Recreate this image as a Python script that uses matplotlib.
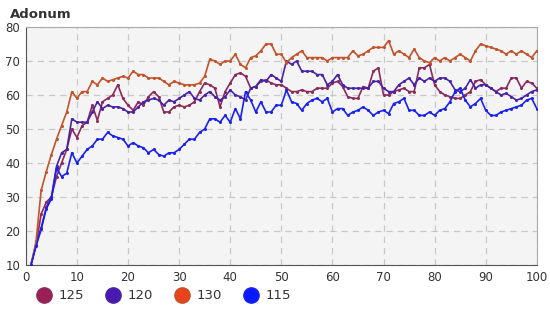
import matplotlib.pyplot as plt
from matplotlib.lines import Line2D

# x positions (1..100)
x = list(range(1, 101))

s125 = [10, 16, 25, 28.5, 30, 36, 40, 44, 50, 47.5,
        51, 52, 57, 52.5, 58, 59, 60, 63, 59, 57,
        55.5, 58, 57, 59.5, 61, 59.5, 55, 55, 56.5, 57,
        56.5, 57, 58, 61, 63.5, 63, 62, 56.5, 61, 63.5,
        66, 66.5, 65.5, 62, 62.5, 64, 64.5, 63.5, 63, 63,
        62, 61, 61, 61.5, 61, 61, 62, 62, 62, 63.5,
        64, 62.5, 59.5, 59, 59, 62.5, 62, 67, 68, 60,
        60, 61, 61.5, 62, 61, 61, 68, 68, 69, 63,
        61, 60, 59.5, 59, 59, 60, 61, 64, 64.5, 63,
        62, 61, 62, 62, 65, 65, 62, 64, 63.5, 62]

s120 = [10, 16, 21, 27, 30, 39, 43, 44, 53, 52,
        52, 52, 55, 58, 56, 57, 56.5, 56.5, 56, 55,
        55, 56.5, 58, 58.5, 59, 58.5, 57, 58.5, 58, 59,
        60, 61, 59, 58.5, 60, 61, 59.5, 58.5, 59.5, 61.5,
        60, 59.5, 58.5, 62, 62.5, 64.5, 64, 66, 65, 64,
        70, 69, 70, 67, 67, 67, 66, 66, 63, 64,
        66, 63, 62, 62, 62, 62, 62, 64, 64, 62,
        61, 61, 63, 64, 65, 63, 65, 64, 65, 64,
        65, 65, 64, 61.5, 61, 62, 64.5, 62, 63, 63,
        62, 61, 60, 60.5, 59.5, 58.5, 59, 60, 61, 61.5]

s130 = [10, 17, 32, 37.5, 42.5, 47, 51, 55, 61, 59,
        61, 61, 64, 63, 65, 64, 64.5, 65, 65.5, 65,
        67, 66, 66, 65, 65, 65, 64, 63, 64, 63.5,
        63, 63, 63, 63.5, 65.5, 70.5, 70, 69, 70, 70,
        72, 69, 68, 71, 71.5, 73, 75, 75, 72, 72,
        69.5, 71, 72, 73, 71, 71, 71, 71, 70, 71,
        71, 71, 71, 73, 71.5, 72, 73, 74, 74, 74,
        76, 72, 73, 72, 71, 73.5, 71, 70, 69.5, 71,
        70, 71, 70, 71, 72, 71, 70, 73, 75, 74.5,
        74, 73.5, 73, 72, 73, 72, 73, 72, 71, 73]

s115 = [10, 15.5, 20.5, 26.5, 29.5, 38.5, 36, 37, 43, 40,
        42, 44, 45, 47, 47, 49, 48, 47.5, 47, 45,
        46, 45, 44.5, 43, 44, 42.5, 42, 43, 43, 44,
        45.5, 47, 47, 49, 50, 53, 53, 52, 54, 52,
        56, 53, 61, 58.5, 55, 58, 55, 55, 57, 57,
        61.5, 58, 57.5, 55.5, 57.5, 58.5, 59, 58, 59, 55,
        56, 56, 54, 55, 55.5, 56.5, 55.5, 54, 55, 55.5,
        54.5, 57.5, 58, 59, 55.5, 55.5, 54, 54, 55, 54,
        55.5, 56, 58, 61, 62, 58.5, 56.5, 57.5, 59, 55.5,
        54, 54, 55, 55.5, 56, 56.5, 57, 58.5, 59, 56]

names = ['125', '120', '130', '115']
series = [s125, s120, s130, s115]
colors = ['#8a2a5c', '#4a22a6', '#c2532b', '#1a22f0']
legend_colors = ['#9a1f55', '#4a1ab0', '#e8431c', '#0a1aff']

fig = plt.figure(figsize=(5.5, 3.14), dpi=100)
ax = fig.add_axes([0.047, 0.156, 0.929, 0.758])
ax.set_facecolor('#f4f4f4')

for vals, c in zip(series, colors):
    ax.plot(x, vals, color=c, lw=1.2, marker='o', markersize=2.2,
            markeredgewidth=0, zorder=3)

ax.set_xlim(0, 100)
ax.set_ylim(10, 80)
ax.set_xticks(range(0, 101, 10))
ax.set_yticks(range(10, 81, 10))
ax.grid(True, color='#c8c8c8', linestyle=(0, (5, 4)), lw=0.9)
ax.tick_params(length=0, labelsize=8.5, colors='#333333', pad=4)
for side in ['top', 'right']:
    ax.spines[side].set_color('#aaaaaa')
for side in ['left', 'bottom']:
    ax.spines[side].set_color('#555555')

fig.text(0.018, 0.955, 'Adonum', fontsize=9.5, fontweight='bold',
         color='#333333', va='center')

handles = [Line2D([], [], linestyle='none', marker='o', markersize=11,
                  markerfacecolor=lc, markeredgecolor=c, markeredgewidth=1)
           for lc, c in zip(legend_colors, colors)]
fig.legend(handles, names, loc='center left', bbox_to_anchor=(0.035, 0.058),
           ncol=4, frameon=False, fontsize=9.5, handletextpad=0.1,
           columnspacing=1.2, labelcolor='#333333')

fig.savefig('out.png', dpi=100)
